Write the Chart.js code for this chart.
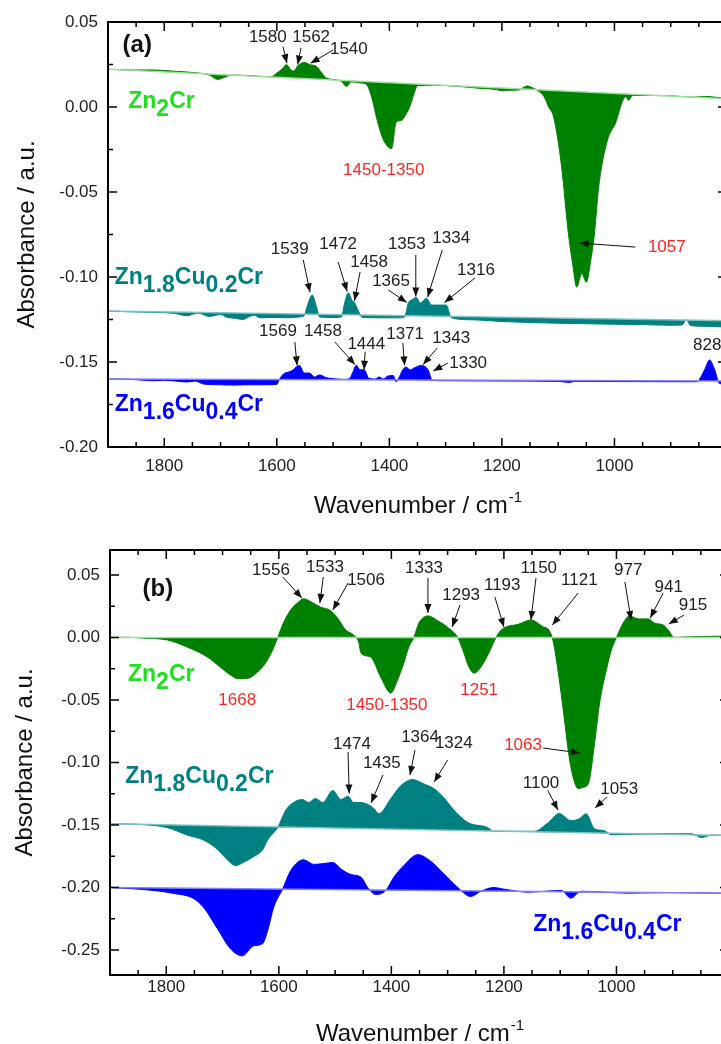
<!DOCTYPE html>
<html>
<head>
<meta charset="utf-8">
<script src="https://cdn.jsdelivr.net/npm/chart.js@4.4.0/dist/chart.umd.min.js"></script>
<style>
  html, body { margin: 0; padding: 0; background: #fff; overflow: hidden; }
  #wrap { position: relative; width: 721px; height: 1044px; overflow: hidden; }
  canvas { position: absolute; left: 0; }
  #cA { top: 0; }
  #cB { top: 525px; }
</style>
</head>
<body>
<div id="wrap">
  <canvas id="cA" width="740" height="525"></canvas>
  <canvas id="cB" width="740" height="519"></canvas>
</div>
<script>
const FONT = '"Liberation Sans", Arial, sans-serif';

// axis ticks
const xTickLabels = [1800, 1600, 1400, 1200, 1000];
const yTicksA = [0.05, 0, -0.05, -0.10, -0.15, -0.20];
const yTicksB = [0.05, 0, -0.05, -0.10, -0.15, -0.20, -0.25];

// baselines are straight lines between the two ends
const baseWn = [1900, 800];

// ---- panel (a) ----
const aGreenWn = [1900,1860,1820,1780,1740,1720,1705,1695,1680,1640,1610,1600,1590,1583,1575,1570,1562,1551,1540,1530,1520,1512,1495,1485,1476,1468,1450,1440,1430,1423,1411,1396,1388,1379,1370,1364,1356,1350,1320,1280,1240,1210,1200,1190,1170,1155,1145,1135,1125,1117,1108,1094,1082,1074,1067,1058,1050,1042,1036,1028,1012,998,985,980,975,968,900,860,840,800];
const aGreenAbs = [0.0222,0.0218,0.0218,0.0210,0.0200,0.0188,0.0162,0.0172,0.0188,0.0183,0.0178,0.0200,0.0225,0.0250,0.0218,0.0212,0.0245,0.0262,0.0248,0.0240,0.0200,0.0170,0.0160,0.0150,0.0120,0.0148,0.0141,0.0130,0.0040,-0.0060,-0.0190,-0.0245,-0.0090,-0.0080,-0.0040,0.0000,0.0080,0.0125,0.0128,0.0122,0.0110,0.0103,0.0095,0.0098,0.0100,0.0124,0.0112,0.0094,0.0060,0.0000,-0.0060,-0.0350,-0.0740,-0.0930,-0.1060,-0.0980,-0.1030,-0.0900,-0.0760,-0.0470,-0.0190,-0.0094,0.0040,0.0060,0.0040,0.0068,0.0066,0.0058,0.0062,0.0050];
const aGreenBase = [0.0222, 0.0048];

const aTealWn = [1900,1860,1820,1780,1760,1740,1720,1700,1690,1670,1660,1650,1640,1630,1600,1580,1560,1552,1545,1537,1530,1524,1500,1485,1480,1473,1466,1462,1455,1448,1420,1380,1373,1366,1360,1352,1345,1340,1334,1325,1299,1290,1250,1200,1150,1100,1050,1000,950,900,880,872,865,840,800];
const aTealAbs = [-0.1200,-0.1205,-0.1208,-0.1215,-0.1228,-0.1212,-0.1232,-0.1220,-0.1235,-0.1245,-0.1250,-0.1235,-0.1225,-0.1240,-0.1238,-0.1240,-0.1235,-0.1230,-0.1160,-0.1106,-0.1170,-0.1235,-0.1238,-0.1235,-0.1160,-0.1094,-0.1140,-0.1150,-0.1200,-0.1238,-0.1240,-0.1240,-0.1235,-0.1150,-0.1135,-0.1120,-0.1153,-0.1140,-0.1125,-0.1165,-0.1165,-0.1240,-0.1252,-0.1262,-0.1268,-0.1272,-0.1275,-0.1278,-0.1280,-0.1284,-0.1282,-0.1250,-0.1285,-0.1290,-0.1295];
const aTealBase = [-0.1200, -0.1258];

const aBlueWn = [1900,1860,1820,1800,1780,1760,1745,1730,1700,1680,1650,1620,1600,1596,1588,1580,1571,1566,1560,1551,1542,1533,1524,1512,1500,1480,1470,1465,1459,1452,1444,1437,1425,1418,1411,1402,1393,1388,1384,1376,1370,1363,1356,1343,1331,1324,1310,1200,1100,1080,1070,1000,900,860,854,840,831,823,813,800];
const aBlueAbs = [-0.1600,-0.1602,-0.1610,-0.1608,-0.1612,-0.1618,-0.1612,-0.1630,-0.1634,-0.1636,-0.1634,-0.1634,-0.1632,-0.1606,-0.1570,-0.1560,-0.1547,-0.1530,-0.1520,-0.1565,-0.1565,-0.1588,-0.1576,-0.1592,-0.1598,-0.1602,-0.1595,-0.1560,-0.1520,-0.1545,-0.1547,-0.1594,-0.1600,-0.1588,-0.1600,-0.1582,-0.1580,-0.1616,-0.1600,-0.1545,-0.1530,-0.1547,-0.1535,-0.1520,-0.1547,-0.1606,-0.1610,-0.1612,-0.1614,-0.1620,-0.1614,-0.1615,-0.1616,-0.1616,-0.1616,-0.1547,-0.1488,-0.1535,-0.1627,-0.1630];
const aBlueBase = [-0.1600, -0.1612];

// ---- panel (b) ----
const bGreenWn = [1900,1870,1841,1798,1763,1727,1704,1686,1672,1654,1638,1624,1611,1602,1592,1579,1566,1556,1540,1526,1508,1496,1481,1467,1458,1454,1437,1419,1401,1389,1378,1369,1360,1351,1335,1317,1298,1282,1273,1262,1253,1241,1227,1214,1205,1196,1175,1152,1130,1120,1113,1104,1093,1084,1075,1068,1060,1050,1039,1030,1018,1009,1000,988,977,961,943,933,917,908,897,880,850,800];
const bGreenAbs = [0,0.0002,-0.0005,-0.0020,-0.0076,-0.0156,-0.0237,-0.0300,-0.0330,-0.0325,-0.0277,-0.0206,-0.0100,0,0.0115,0.0220,0.0280,0.0310,0.0279,0.0244,0.0215,0.0158,0.0060,0.0020,-0.0040,-0.0125,-0.0156,-0.0316,-0.0445,-0.0340,-0.0206,-0.0076,0,0.0116,0.0173,0.0133,0.0075,0,-0.0100,-0.0237,-0.0285,-0.0237,-0.0125,0,0.0060,0.0085,0.0105,0.0140,0.0085,0.0060,-0.0020,-0.0260,-0.0636,-0.0957,-0.1150,-0.1210,-0.1200,-0.1170,-0.0850,-0.0526,-0.0260,-0.0100,0,0.0116,0.0173,0.0149,0.0149,0.0116,0.0100,0.0060,0,0.0004,0.0008,0.0012];
const bGreenBase = [0, 0];

const bTealWn = [1900,1841,1798,1763,1734,1709,1691,1677,1663,1645,1629,1620,1602,1588,1574,1558,1547,1535,1522,1504,1490,1477,1467,1454,1433,1422,1401,1383,1362,1344,1324,1307,1289,1264,1229,1218,1146,1121,1102,1081,1066,1054,1039,1022,1009,920,866,849,830,800];
const bTealAbs = [-0.1490,-0.1497,-0.1521,-0.1580,-0.1620,-0.1695,-0.1780,-0.1825,-0.1800,-0.1753,-0.1700,-0.1620,-0.1520,-0.1384,-0.1320,-0.1296,-0.1320,-0.1288,-0.1320,-0.1224,-0.1296,-0.1270,-0.1320,-0.1320,-0.1360,-0.1408,-0.1289,-0.1184,-0.1136,-0.1168,-0.1210,-0.1280,-0.1380,-0.1480,-0.1520,-0.1550,-0.1550,-0.1480,-0.1408,-0.1465,-0.1450,-0.1410,-0.1530,-0.1545,-0.1577,-0.1570,-0.1570,-0.1600,-0.1580,-0.1585];
const bTealBase = [-0.1490, -0.1585];

const bBlueWn = [1900,1841,1787,1752,1734,1709,1686,1665,1645,1629,1620,1609,1593,1579,1556,1538,1520,1504,1490,1472,1454,1442,1428,1410,1396,1378,1353,1330,1307,1282,1259,1241,1218,1200,1157,1098,1081,1063,979,900,800];
const bBlueAbs = [-0.2000,-0.2016,-0.2047,-0.2087,-0.2157,-0.2330,-0.2490,-0.2547,-0.2467,-0.2450,-0.2347,-0.2157,-0.2010,-0.1865,-0.1778,-0.1815,-0.1808,-0.1800,-0.1850,-0.1896,-0.1917,-0.2000,-0.2056,-0.2024,-0.1920,-0.1825,-0.1737,-0.1790,-0.1890,-0.2000,-0.2072,-0.2030,-0.2000,-0.2013,-0.2037,-0.2024,-0.2085,-0.2030,-0.2045,-0.2040,-0.2047];
const bBlueBase = [-0.2000, -0.2047];

// peak labels: [text, wn, value, arrow from (wn,value) to (wn,value)]
const aPeaks = [
  ['1580', 1616, 0.0409, [1589, 0.0355, 1582, 0.0258]],
  ['1562', 1539, 0.0409, [1557, 0.0347, 1563, 0.0250]],
  ['1540', 1472, 0.0341, [1500, 0.0335, 1540, 0.0258]],
  ['1539', 1577, -0.0835, [1553, -0.0900, 1541, -0.1090]],
  ['1472', 1491, -0.0806, [1491, -0.0912, 1475, -0.1085]],
  ['1458', 1436, -0.0912, [1452, -0.0970, 1462, -0.1140]],
  ['1365', 1397, -0.1024, [1402, -0.1076, 1369, -0.1150]],
  ['1353', 1369, -0.0806, [1353, -0.0870, 1353, -0.1115]],
  ['1334', 1290, -0.0770, [1306, -0.0841, 1332, -0.1118]],
  ['1316', 1246, -0.0959, [1248, -0.1006, 1302, -0.1150]],
  ['1569', 1598, -0.1318, [1568, -0.1382, 1564, -0.1520]],
  ['1458', 1518, -0.1318, [1497, -0.1382, 1461, -0.1515]],
  ['1444', 1441, -0.1394, [1443, -0.1440, 1445, -0.1545]],
  ['1371', 1372, -0.1335, [1376, -0.1388, 1373, -0.1520]],
  ['1343', 1290, -0.1359, [1315, -0.1418, 1340, -0.1515]],
  ['1330', 1260, -0.1506, [1296, -0.1506, 1322, -0.1553]],
  ['828', 835, -0.1400, null]
];
const aRed = [
  ['1450-1350', 1410, -0.0370, null],
  ['1057', 907, -0.0824, [963, -0.0824, 1062, -0.0800]]
];
const bPeaks = [
  ['1556', 1614, 0.0540, [1593, 0.0484, 1559, 0.0316]],
  ['1533', 1518, 0.0564, [1521, 0.0484, 1527, 0.0276]],
  ['1506', 1445, 0.0460, [1477, 0.0436, 1504, 0.0220]],
  ['1333', 1342, 0.0556, [1335, 0.0476, 1335, 0.0196]],
  ['1293', 1276, 0.0340, [1278, 0.0260, 1292, 0.0084]],
  ['1193', 1203, 0.0420, [1216, 0.0324, 1200, 0.0084]],
  ['1150', 1138, 0.0556, [1143, 0.0476, 1152, 0.0140]],
  ['1121', 1066, 0.0460, [1068, 0.0356, 1114, 0.0100]],
  ['977', 979, 0.0540, [985, 0.0444, 974, 0.0140]],
  ['941', 907, 0.0404, [917, 0.0356, 940, 0.0156]],
  ['915', 864, 0.0260, [880, 0.0180, 907, 0.0108]],
  ['1474', 1470, -0.0852, [1477, -0.0916, 1475, -0.1248]],
  ['1435', 1417, -0.1004, [1415, -0.1100, 1436, -0.1324]],
  ['1364', 1349, -0.0796, [1358, -0.0900, 1367, -0.1100]],
  ['1324', 1289, -0.0844, [1300, -0.0980, 1324, -0.1156]],
  ['1100', 1134, -0.1164, [1122, -0.1224, 1104, -0.1380]],
  ['1053', 995, -0.1216, [1017, -0.1276, 1038, -0.1364]]
];
const bRed = [
  ['1668', 1674, -0.0500, null],
  ['1450-1350', 1408, -0.0540, null],
  ['1251', 1244, -0.0420, null],
  ['1063', 1166, -0.0860, [1130, -0.0884, 1065, -0.0924]]
];

// sample names, parts: [text, isSubscript]
const nameZn2Cr = [['Zn', 0], ['2', 1], ['Cr', 0]];
const nameCu02 = [['Zn', 0], ['1.8', 1], ['Cu', 0], ['0.2', 1], ['Cr', 0]];
const nameCu04 = [['Zn', 0], ['1.6', 1], ['Cu', 0], ['0.4', 1], ['Cr', 0]];

function drawArrow(ctx, x1, y1, x2, y2) {
  ctx.beginPath();
  ctx.moveTo(x1, y1);
  ctx.lineTo(x2, y2);
  ctx.stroke();
  const ang = Math.atan2(y2 - y1, x2 - x1), L = 9, W = 3.5;
  ctx.beginPath();
  ctx.moveTo(x2, y2);
  ctx.lineTo(x2 - L * Math.cos(ang) + W * Math.sin(ang), y2 - L * Math.sin(ang) - W * Math.cos(ang));
  ctx.lineTo(x2 - L * Math.cos(ang) - W * Math.sin(ang), y2 - L * Math.sin(ang) + W * Math.cos(ang));
  ctx.closePath();
  ctx.fill();
}

function drawName(ctx, x, y, parts, color) {
  ctx.fillStyle = color;
  ctx.font = 'bold 23px ' + FONT;
  ctx.textAlign = 'left';
  ctx.textBaseline = 'middle';
  let cx = x;
  parts.forEach(p => {
    ctx.fillText(p[0], cx, p[1] ? y + 8 : y);
    cx += ctx.measureText(p[0]).width;
  });
}

const decor = {
  id: 'decor',
  afterDatasetsDraw(chart, args, o) {
    const ctx = chart.ctx, a = chart.chartArea, xs = chart.scales.x, ys = chart.scales.y;
    const P = (w, v) => [xs.getPixelForValue(w), ys.getPixelForValue(v)];
    ctx.save();

    // frame + inward ticks
    ctx.strokeStyle = '#000';
    ctx.lineWidth = 2;
    ctx.strokeRect(a.left, a.top, a.right - a.left, a.bottom - a.top);
    ctx.lineWidth = 1.5;
    ctx.beginPath();
    for (let w = 850; w < 1900; w += 50) {
      const x = xs.getPixelForValue(w), len = w % 200 === 0 ? 9 : 5;
      ctx.moveTo(x, a.bottom); ctx.lineTo(x, a.bottom - len);
      ctx.moveTo(x, a.top); ctx.lineTo(x, a.top + len);
    }
    o.yTicks.forEach((v, i) => {
      const marks = [[v, 9]];
      if (i < o.yTicks.length - 1) marks.push([(v + o.yTicks[i + 1]) / 2, 5]);
      marks.forEach(m => {
        const y = ys.getPixelForValue(m[0]);
        ctx.moveTo(a.left, y); ctx.lineTo(a.left + m[1], y);
        ctx.moveTo(a.right, y); ctx.lineTo(a.right - m[1], y);
      });
    });
    ctx.stroke();

    // peak labels with arrows
    ctx.lineWidth = 1;
    ctx.textAlign = 'center';
    ctx.textBaseline = 'middle';
    const labels = (list, color) => {
      list.forEach(p => {
        ctx.fillStyle = color;
        ctx.strokeStyle = '#111';
        ctx.font = '17px ' + FONT;
        const q = P(p[1], p[2]);
        ctx.fillText(p[0], q[0], q[1]);
        if (p[3]) {
          const s = P(p[3][0], p[3][1]), e = P(p[3][2], p[3][3]);
          ctx.fillStyle = '#111';
          drawArrow(ctx, s[0], s[1], e[0], e[1]);
        }
      });
    };
    labels(o.peaks, '#222');
    labels(o.red, '#ff2424');

    // sample names
    o.names.forEach(n => {
      const q = P(n[1], n[2]);
      drawName(ctx, q[0], q[1], n[0], n[3]);
    });

    // panel letter
    ctx.fillStyle = '#111';
    ctx.font = 'bold 24px ' + FONT;
    ctx.textAlign = 'center';
    ctx.textBaseline = 'middle';
    const pl = P(o.letter[1], o.letter[2]);
    ctx.fillText(o.letter[0], pl[0], pl[1]);

    // axis titles
    ctx.fillStyle = '#111';
    ctx.font = '24px ' + FONT;
    ctx.save();
    ctx.translate(a.left - o.yTitleGap, (a.top + a.bottom) / 2);
    ctx.rotate(-Math.PI / 2);
    ctx.fillText('Absorbance / a.u.', 0, 0);
    ctx.restore();

    const main = 'Wavenumber / cm', sup = '-1';
    ctx.font = '24px ' + FONT;
    const w1 = ctx.measureText(main).width;
    ctx.font = '15px ' + FONT;
    const w2 = ctx.measureText(sup).width;
    const x0 = (a.left + a.right) / 2 - (w1 + w2) / 2, yb = a.bottom + 66;
    ctx.textAlign = 'left';
    ctx.textBaseline = 'alphabetic';
    ctx.font = '24px ' + FONT;
    ctx.fillText(main, x0, yb);
    ctx.font = '15px ' + FONT;
    ctx.fillText(sup, x0 + w1 + 1, yb - 11);
    ctx.restore();
  }
};

function series(wn, abs, base, color, light) {
  return [
    {
      data: baseWn.map((w, i) => ({ x: w, y: base[i] })),
      borderColor: light, borderWidth: 1.5, pointRadius: 0, fill: false, order: 0
    },
    {
      data: wn.map((w, i) => ({ x: w, y: abs[i] })),
      borderColor: color, backgroundColor: color, borderWidth: 1, pointRadius: 0,
      cubicInterpolationMode: 'monotone',
      fill: { target: '-1', above: color, below: color }, order: 1
    }
  ];
}

function makePanel(id, p) {
  return new Chart(document.getElementById(id), {
    type: 'line',
    data: { datasets: p.datasets },
    options: {
      responsive: false,
      animation: false,
      events: [],
      layout: { padding: { left: 0, right: p.right, top: p.top, bottom: 0 } },
      plugins: {
        legend: { display: false },
        tooltip: { enabled: false },
        decor: p.decor
      },
      scales: {
        x: {
          type: 'linear', reverse: true, min: 800, max: 1900,
          afterBuildTicks: s => { s.ticks = xTickLabels.map(v => ({ value: v })); },
          afterFit: s => { s.height = p.xHeight; },
          grid: { display: false, drawTicks: false },
          border: { display: false },
          ticks: { font: { family: FONT, size: 17 }, color: '#222', padding: p.xPad, maxRotation: 0, callback: v => String(v) }
        },
        y: {
          type: 'linear', min: p.yMin, max: p.yMax,
          afterBuildTicks: s => { s.ticks = p.decor.yTicks.map(v => ({ value: v })); },
          afterFit: s => { s.width = p.left; },
          grid: { display: false, drawTicks: false },
          border: { display: false },
          ticks: { font: { family: FONT, size: 17 }, color: '#222', padding: 10, callback: v => Number(v).toFixed(2) }
        }
      }
    },
    plugins: [decor]
  });
}

makePanel('cA', {
  datasets: [
    ...series(aGreenWn, aGreenAbs, aGreenBase, '#008000', '#9ee09e'),
    ...series(aTealWn, aTealAbs, aTealBase, '#008080', '#7fc0c0'),
    ...series(aBlueWn, aBlueAbs, aBlueBase, '#0000ff', '#8080ff')
  ],
  yMin: -0.20, yMax: 0.05, left: 108, right: 13, top: 22, xHeight: 78, xPad: 9,
  decor: {
    yTicks: yTicksA, peaks: aPeaks, red: aRed, letter: ['(a)', 1848, 0.0365], yTitleGap: 81,
    names: [
      [nameZn2Cr, 1864, 0.0030, '#1ee01e'],
      [nameCu02, 1888, -0.1006, '#008080'],
      [nameCu04, 1888, -0.1753, '#0000ff']
    ]
  }
});

makePanel('cB', {
  datasets: [
    ...series(bGreenWn, bGreenAbs, bGreenBase, '#008000', '#9ee09e'),
    ...series(bTealWn, bTealAbs, bTealBase, '#008080', '#7fc0c0'),
    ...series(bBlueWn, bBlueAbs, bBlueBase, '#0000ff', '#8080ff')
  ],
  yMin: -0.27, yMax: 0.07, left: 110, right: 11, top: 25, xHeight: 69, xPad: 2,
  decor: {
    yTicks: yTicksB, peaks: bPeaks, red: bRed, letter: ['(b)', 1815, 0.0388], yTitleGap: 85,
    names: [
      [nameZn2Cr, 1868, -0.0300, '#1ee01e'],
      [nameCu02, 1873, -0.1116, '#008080'],
      [nameCu04, 1148, -0.2300, '#0000ff']
    ]
  }
});
</script>
</body>
</html>
